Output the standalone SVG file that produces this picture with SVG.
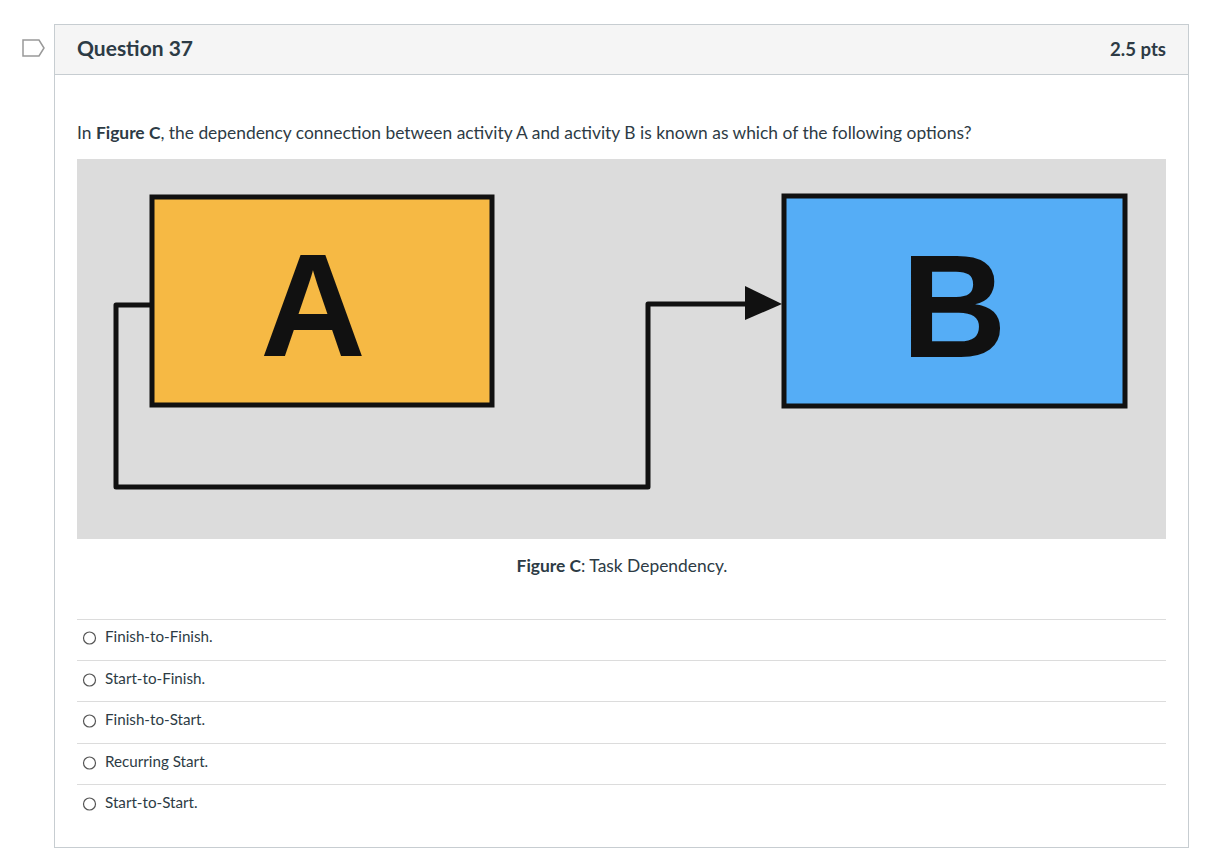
<svg xmlns="http://www.w3.org/2000/svg" width="1210" height="864" viewBox="0 0 1210 864">
<style>
.t{font-family:Lato,"Open Sans","Liberation Sans",sans-serif;fill:#2d3b45}
.opt{font-family:Lato,"Open Sans","Liberation Sans",sans-serif;font-size:15.2px;fill:#2d3b45}
.sep{stroke:#dcdcdc;stroke-width:1}
.radio{fill:#fff;stroke:#555;stroke-width:1.2}
.box{stroke:#111;stroke-width:5}
.big{font-family:"Liberation Sans",Arial,sans-serif;font-weight:bold;font-size:146px;fill:#111;text-anchor:middle}
.conn{fill:none;stroke:#111;stroke-width:5;stroke-linejoin:round}
</style>
<defs>
<marker id="arr" markerWidth="10" markerHeight="10" refX="9" refY="5" orient="auto" markerUnits="userSpaceOnUse" viewBox="0 0 10 10">
<path d="M0,0 L10,5 L0,10 Z" fill="#111"/>
</marker>
</defs>
<rect width="1210" height="864" fill="#fff"/>
<g id="flag"><path d="M23,40 H39 L44,48 L39,56 H23 Z" fill="#fff" stroke="#999" stroke-width="1.5"/></g>
<g id="card">
<rect x="54.5" y="24.5" width="1134" height="823" fill="#fff" stroke="#c7cdd1"/>
<rect x="55" y="25" width="1133" height="49" fill="#f5f5f5"/>
<line x1="54" y1="74.5" x2="1189" y2="74.5" stroke="#c7cdd1"/>
<text class="t" x="77" y="56" font-size="21" font-weight="bold">Question 37</text>
<text class="t" x="1166" y="56" font-size="18.6" font-weight="bold" text-anchor="end" fill="#555">2.5 pts</text>
<text class="t" x="77" y="139" font-size="17.4">In <tspan font-weight="bold">Figure C</tspan>, the dependency connection between activity A and activity B is known as which of the following options?</text>
</g>
<g id="figure">
<rect x="77" y="159" width="1089" height="380" fill="#dcdcdc"/>
</g>
<g id="connectors">
<path class="conn" d="M150,305 H116 V487 H648 V304 H760" marker-end="url(#arr)"/>
<path d="M745,286 L782,304 L745,320 Z" fill="#111"/>
</g>
<g id="nodeA">
<rect class="box" x="152" y="197" width="340" height="208" fill="#f6b944"/>
<text class="big" x="313" y="356">A</text>
</g>
<g id="nodeB">
<rect class="box" x="784" y="196" width="341" height="210" fill="#55adf6"/>
<text class="big" x="954" y="357">B</text>
</g>
<g id="caption">
<text class="t" x="622" y="572" font-size="17.4" text-anchor="middle"><tspan font-weight="bold">Figure C</tspan>: Task Dependency.</text>
</g>
<g id="options">
<line class="sep" x1="77" y1="619.5" x2="1166" y2="619.5"/>
<line class="sep" x1="77" y1="660.5" x2="1166" y2="660.5"/>
<line class="sep" x1="77" y1="701.5" x2="1166" y2="701.5"/>
<line class="sep" x1="77" y1="743.5" x2="1166" y2="743.5"/>
<line class="sep" x1="77" y1="784.5" x2="1166" y2="784.5"/>
<circle class="radio" cx="89.5" cy="638" r="6"/>
<circle class="radio" cx="89.5" cy="680" r="6"/>
<circle class="radio" cx="89.5" cy="721" r="6"/>
<circle class="radio" cx="89.5" cy="763" r="6"/>
<circle class="radio" cx="89.5" cy="804" r="6"/>
<text class="opt" x="105" y="642">Finish-to-Finish.</text>
<text class="opt" x="105" y="684">Start-to-Finish.</text>
<text class="opt" x="105" y="725">Finish-to-Start.</text>
<text class="opt" x="105" y="767">Recurring Start.</text>
<text class="opt" x="105" y="808">Start-to-Start.</text>
</g>
</svg>
